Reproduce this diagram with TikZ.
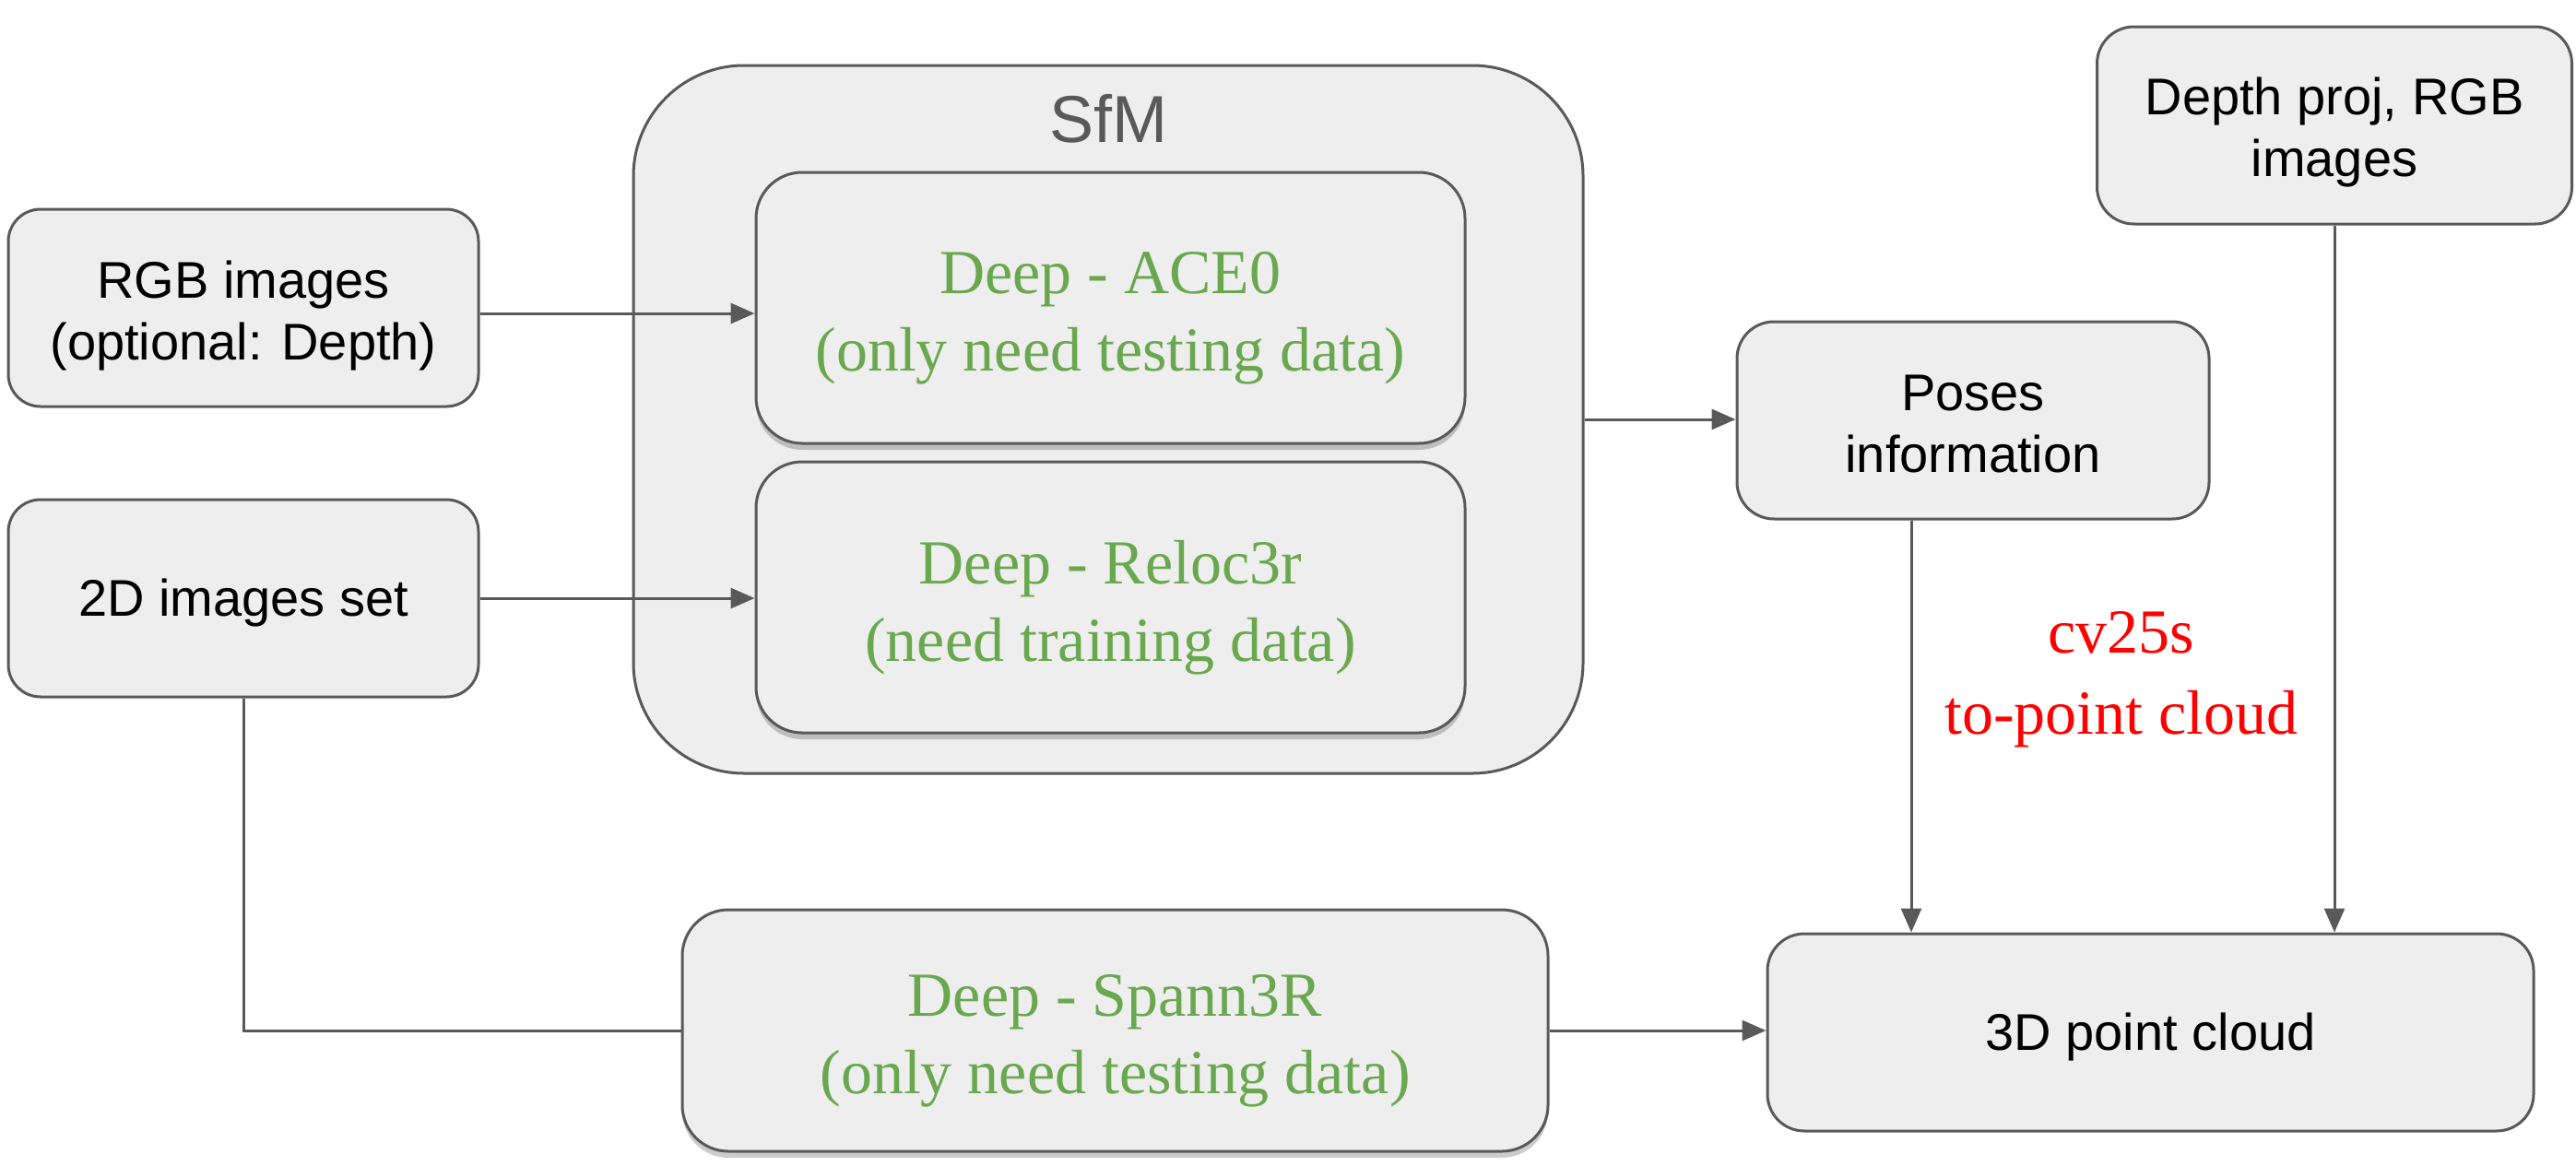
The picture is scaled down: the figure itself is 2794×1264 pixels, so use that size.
\documentclass[tikz,border=0pt]{standalone}
\usepackage{fontspec}
\setmainfont{Liberation Serif}
\setsansfont{Liberation Sans}
\usetikzlibrary{arrows.meta,shadows}
\definecolor{boxfill}{HTML}{EEEEEE}
\definecolor{edgegray}{HTML}{595959}
\definecolor{deepgreen}{HTML}{6AA84F}
\definecolor{notered}{HTML}{FF0000}
\begin{document}
\begin{tikzpicture}[x=0.5pt,y=-0.5pt,
  box/.style={draw=edgegray, line width=1.5pt, fill=boxfill, rounded corners=17.5pt, inner sep=0pt},
  deepbox/.style={box, rounded corners=25pt,
    drop shadow={shadow xshift=0pt, shadow yshift=-3.5pt, opacity=0.2, fill=black}},
  outerbox/.style={draw=edgegray, line width=1.5pt, fill=boxfill, rounded corners=60pt, inner sep=0pt},
  sanstext/.style={align=center, inner sep=0pt, text=black, font=\sffamily\fontsize{28}{33.5}\selectfont},
  deeptext/.style={align=center, inner sep=0pt, text=deepgreen, font=\rmfamily\fontsize{34}{42}\selectfont},
  link/.style={draw=edgegray, line width=1.5pt},
  arr/.style={link, -{Triangle[length=13pt,width=11pt]}}
]
\useasboundingbox (0,0) rectangle (2794,1264);

% SfM group
\node[outerbox, minimum width=515pt, minimum height=384pt] (sfm) at (1202,455) {};
\node[text=edgegray, font=\sffamily\fontsize{36}{43}\selectfont, inner sep=0pt] (sfmlabel) at (1202,129) {SfM};
\node[deepbox, minimum width=384.5pt, minimum height=147pt] (ace) at (1204.5,334) {};
\node[deeptext] (acet) at ([yshift=-5.5pt]ace.center) {Deep - ACE0\\(only need testing data)};
\node[deepbox, minimum width=384.5pt, minimum height=147pt] (reloc) at (1204.5,648) {};
\node[deeptext] (reloct) at ([yshift=-5.5pt]reloc.center) {Deep - Reloc3r\\(need training data)};

% inputs
\node[box, minimum width=255pt, minimum height=107pt] (rgb) at (264,334) {};
\node[sanstext] (rgbt) at ([yshift=-4.5pt]rgb.center) {RGB images\\(optional: Depth)};
\node[box, minimum width=255pt, minimum height=107pt] (twod) at (264,649) {};
\node[sanstext] (twodt) at ([yshift=-2.5pt]twod.center) {2D images set};

% Spann3R
\node[deepbox, minimum width=469.5pt, minimum height=131pt] (spann) at (1209.5,1118) {};
\node[deeptext] (spannt) at ([yshift=-5.5pt]spann.center) {Deep - Spann3R\\(only need testing data)};

% right side
\node[box, minimum width=256pt, minimum height=107pt, rounded corners=20pt] (poses) at (2140,456) {};
\node[sanstext] (posest) at ([yshift=-2pt]poses.center) {Poses\\information};
\node[box, minimum width=257.5pt, minimum height=107pt, rounded corners=20pt] (depth) at (2532,136) {};
\node[sanstext] (deptht) at ([yshift=-4pt]depth.center) {Depth proj, RGB\\images};
\node[box, minimum width=415.5pt, minimum height=107pt, rounded corners=20pt] (pc) at (2332.5,1120) {};
\node[sanstext] (pct) at ([yshift=-2.5pt]pc.center) {3D point cloud};

\node[text=notered, align=center, inner sep=0pt, font=\rmfamily\fontsize{34}{44}\selectfont] (note) at (2301,737)
  {cv25s\\to-point cloud};

% connectors
\draw[arr] ([yshift=-3pt]rgb.east) -- ([yshift=-3pt]rgb.east -| ace.west);
\draw[arr] (twod.east) -- (twod.east -| reloc.west);
\draw[arr] (sfm.east) -- (sfm.east -| poses.west);
\draw[link] (twod.south) |- (spann.west);
\draw[arr] (spann.east) -- (spann.east -| pc.west);
\draw[arr] ([xshift=-33.5pt]poses.south) -- ([xshift=-33.5pt]poses.south |- pc.north);
\draw[arr] (depth.south) -- (depth.south |- pc.north);
\end{tikzpicture}
\end{document}
